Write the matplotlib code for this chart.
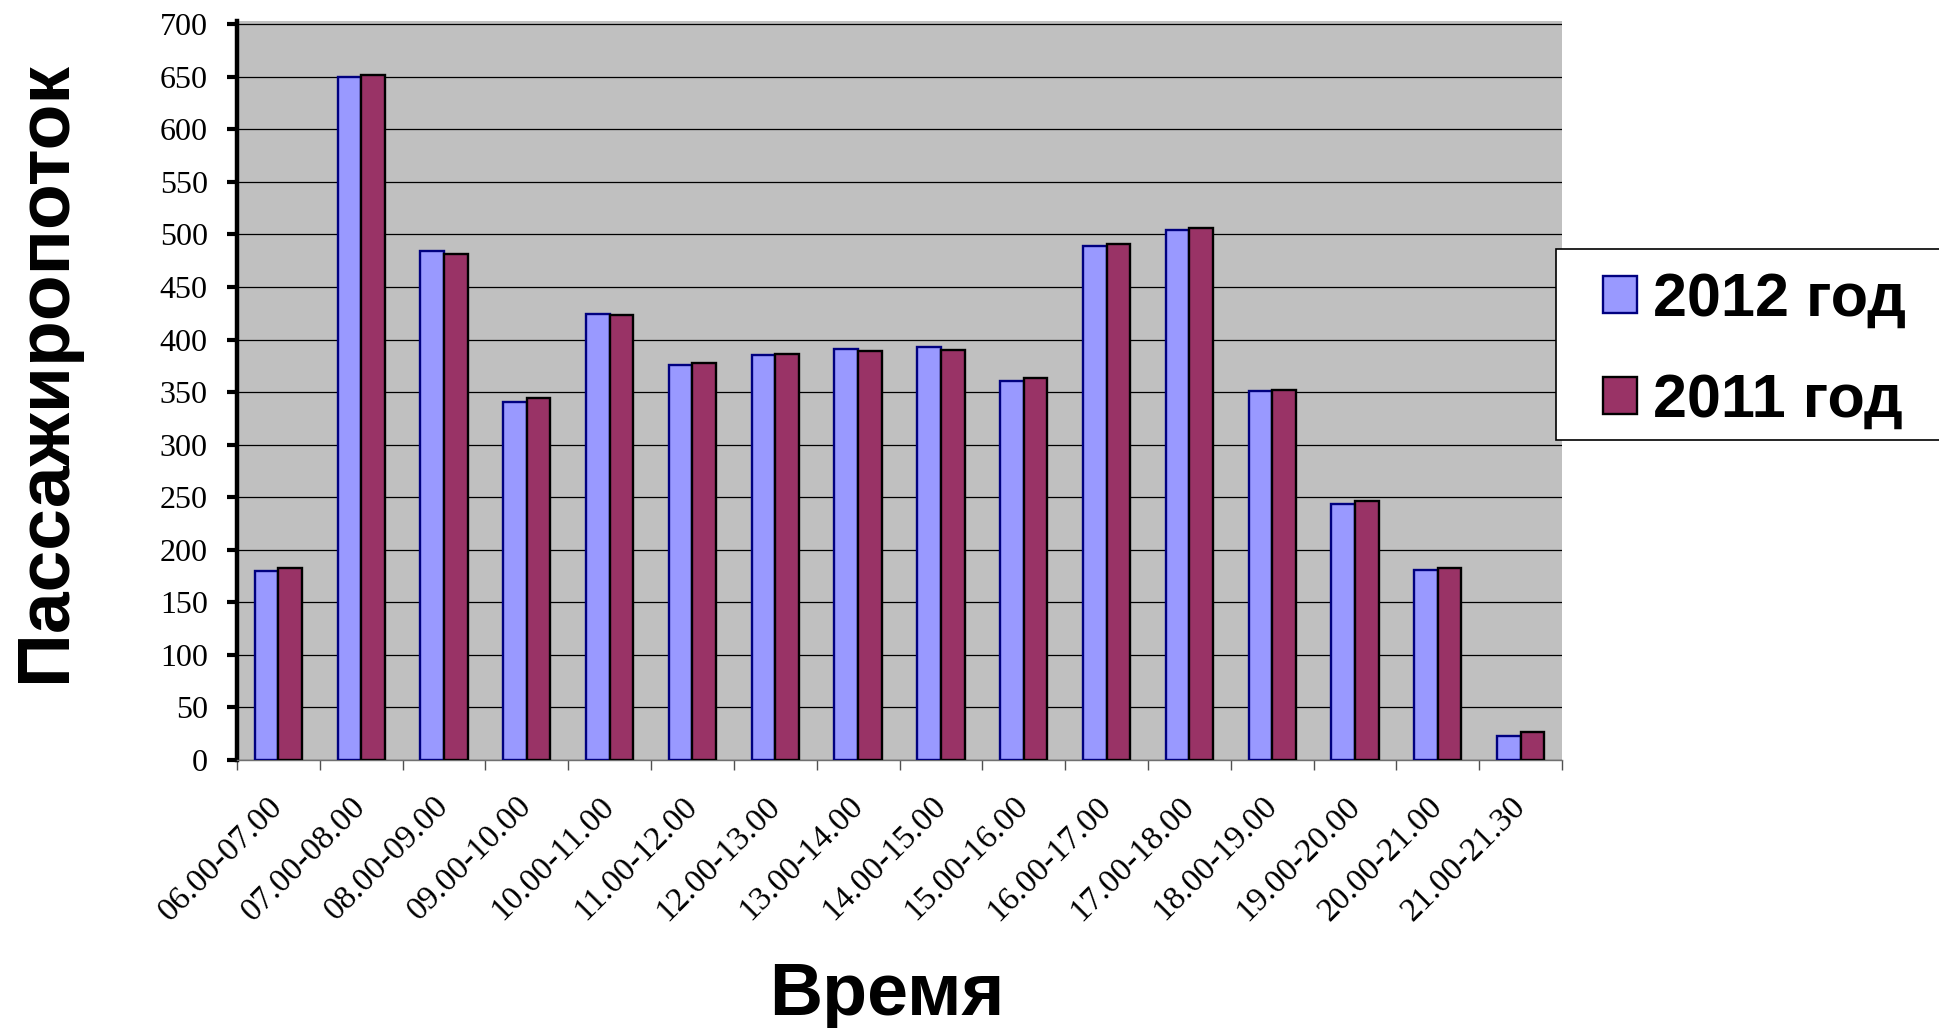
import matplotlib
matplotlib.use("Agg")
import matplotlib.pyplot as plt
from matplotlib.patches import Rectangle
import numpy as np

# hourly passenger flow, two survey years
slots = ["06.00-07.00", "07.00-08.00", "08.00-09.00", "09.00-10.00",
         "10.00-11.00", "11.00-12.00", "12.00-13.00", "13.00-14.00",
         "14.00-15.00", "15.00-16.00", "16.00-17.00", "17.00-18.00",
         "18.00-19.00", "19.00-20.00", "20.00-21.00", "21.00-21.30"]
flow_2012 = [180, 650, 484, 341, 424, 376, 385, 391, 393, 361, 489, 504, 351, 244, 181, 23]
flow_2011 = [183, 652, 481, 344, 423, 378, 386, 389, 390, 363, 491, 506, 352, 246, 183, 27]
yticks = list(range(0, 701, 50))

W, H = 1939, 1028
fig = plt.figure(figsize=(W / 100, H / 100), dpi=100)
fig.patch.set_facecolor("white")
ax = fig.add_axes([237 / W, 1 - 760 / H, (1562 - 237) / W, (760 - 21) / H])
ax.set_facecolor("#C0C0C0")

x = np.arange(len(slots))
bw = 0.285
ax.bar(x - bw / 2, flow_2012, bw, color="#9999FF", edgecolor="#000080",
       linewidth=1.7, label="2012 год", zorder=3)
ax.bar(x + bw / 2, flow_2011, bw, color="#993366", edgecolor="black",
       linewidth=1.7, label="2011 год", zorder=3)

ax.set_xlim(-0.5, len(slots) - 0.5)
ax.set_ylim(0, 703)
ax.set_yticks(yticks)
ax.yaxis.grid(True, color="black", linewidth=0.9, zorder=1)
ax.set_axisbelow(True)

for s in ("top", "right"):
    ax.spines[s].set_visible(False)
ax.spines["left"].set_linewidth(3.2)
ax.spines["left"].set_color("black")
ax.spines["bottom"].set_linewidth(1.0)
ax.spines["bottom"].set_color("#707070")

ax.tick_params(axis="y", direction="out", length=7, width=3, pad=14,
               labelsize=23, labelfontfamily="Liberation Serif")
# group boundaries get the small tick marks, centres carry the labels
ax.set_xticks(np.arange(-0.5, len(slots)), minor=True)
ax.set_xticks(x)
ax.set_xticklabels(slots, rotation=45, ha="right", va="center",
                   rotation_mode="anchor", fontsize=24,
                   family="Liberation Serif")
ax.tick_params(axis="x", which="major", length=0, pad=30)
ax.tick_params(axis="x", which="minor", length=7, width=1, color="#505050")

fig.text(46 / W, 1 - 371 / H, "Пассажиропоток", rotation=90, ha="center",
         va="center", fontsize=54, fontweight="bold", family="Liberation Sans")
fig.text(887 / W, 1 - 1015 / H, "Время", ha="center", va="baseline",
         fontsize=53, fontweight="bold", family="Liberation Sans")

# legend box runs off the right edge of the figure
box = Rectangle((1556 / W, 1 - 440 / H), (W - 1556) / W + 0.01, 191 / H,
                transform=fig.transFigure, facecolor="white",
                edgecolor="black", linewidth=1.2, zorder=5)
fig.patches.append(box)
fig.legend(loc="upper left", bbox_to_anchor=(1580 / W, 1 - 249 / H),
           prop={"family": "Liberation Sans", "weight": "bold", "size": 44},
           handlelength=0.56, handleheight=0.56, handletextpad=0.26,
           labelspacing=0.72, borderpad=0.38, borderaxespad=0,
           frameon=False).set_zorder(6)

fig.savefig("out.png", dpi=100)
